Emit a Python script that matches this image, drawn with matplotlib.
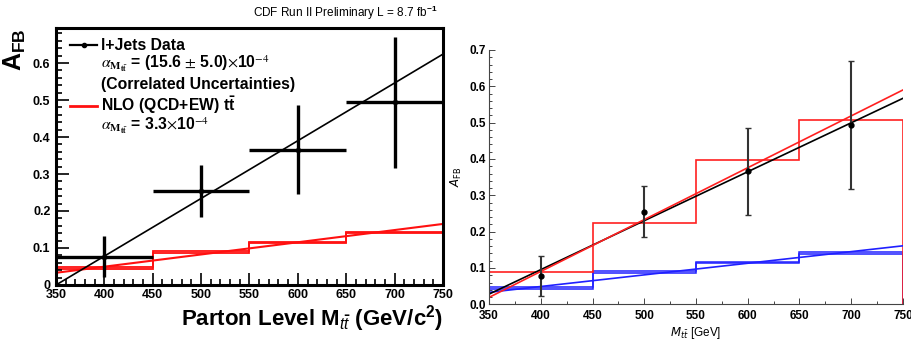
import numpy as np
import matplotlib
matplotlib.use('Agg')
import matplotlib.pyplot as plt
from matplotlib.ticker import MultipleLocator

plt.rcParams['font.family'] = ['Liberation Sans', 'DejaVu Sans']
plt.rcParams['mathtext.fontset'] = 'custom'
plt.rcParams['mathtext.rm'] = 'Liberation Sans:bold'
plt.rcParams['mathtext.it'] = 'Liberation Sans:italic'
plt.rcParams['mathtext.bf'] = 'Liberation Sans:bold'

# data
bin_edges = [350, 450, 550, 650, 750]
mass_centers = [400, 500, 600, 700]
afb_data = [0.077, 0.255, 0.366, 0.494]
afb_err = [0.055, 0.070, 0.120, 0.177]
bin_halfwidth = [50, 50, 50, 50]

nlo_hist = [0.045, 0.090, 0.115, 0.142]
nlo_band = 0.0025

# left panel fit lines (end points)
fit_x = [350, 750]
data_fit_left = [0.0, 0.624]
nlo_fit_left = [0.033, 0.165]

# right panel
red_hist = [0.088, 0.225, 0.398, 0.508]
data_fit_right = [0.028, 0.567]
red_fit_right = [0.019, 0.590]
blue_fit_right = [0.033, 0.161]

x_ticks = [350, 400, 450, 500, 550, 600, 650, 700, 750]
x_ticklabels = ['350', '400', '450', '500', '550', '600', '650', '700', '750']

fig = plt.figure(figsize=(9.12, 3.4), dpi=100)

# ---------------- left panel (CDF style) ----------------
ax = fig.add_axes([0.0614, 0.1618, 0.4243, 0.7558])
ax.set_xlim(350, 750)
ax.set_ylim(0, 0.6946)

ax.stairs(np.array(nlo_hist) - nlo_band, bin_edges, color='#ff1010', lw=1.3)
ax.stairs(np.array(nlo_hist) + nlo_band, bin_edges, color='#ff1010', lw=1.3)
ax.plot(fit_x, nlo_fit_left, color='#ff1010', lw=1.5)
ax.plot(fit_x, data_fit_left, color='black', lw=1.2)
ax.errorbar(mass_centers, afb_data, yerr=afb_err, xerr=bin_halfwidth,
            fmt='o', ms=3, color='black', elinewidth=2.4, capsize=0)

for s in ax.spines.values():
    s.set_linewidth(2.2)
ax.xaxis.set_minor_locator(MultipleLocator(10))
ax.yaxis.set_minor_locator(MultipleLocator(0.02))
ax.tick_params(which='both', direction='in', top=False, right=False, width=1.2)
ax.tick_params(which='major', length=9, labelsize=9, pad=3)
ax.tick_params(axis='y', which='major', pad=4)
ax.tick_params(which='minor', length=4.5)
ax.set_xticks(x_ticks)
ax.set_xticklabels(x_ticklabels, fontweight='bold')
ax.set_yticks([0, 0.1, 0.2, 0.3, 0.4, 0.5, 0.6])
ax.set_yticklabels(['0', '0.1', '0.2', '0.3', '0.4', '0.5', '0.6'], fontweight='bold')

ax.text(-0.105, 1.0, r'$\mathbf{A}_{\mathbf{FB}}$', transform=ax.transAxes,
        rotation=90, ha='center', va='top', fontsize=18)
fig.text(443 / 912, 1 - 325 / 340, r'Parton Level M$_{t\bar{t}}$ (GeV/c$^{2}$)',
         ha='right', va='baseline', fontsize=16, fontweight='bold')
fig.text(437 / 912, 1 - 17 / 340, r'CDF Run II Preliminary L = 8.7 fb$^{-1}$',
         ha='right', va='baseline', fontsize=8.5)

# legend drawn by hand
fig.add_artist(plt.Line2D([70 / 912, 97 / 912], [1 - 45 / 340] * 2, color='black', lw=1.6))
fig.add_artist(plt.Line2D([84 / 912], [1 - 45 / 340], marker='o', ms=3, color='black'))
fig.add_artist(plt.Line2D([70 / 912, 97 / 912], [1 - 106 / 340] * 2, color='#ff1010', lw=2))
tx = 101 / 912
fs = 11.3
fig.text(tx, 1 - 45 / 340, 'l+Jets Data', va='center', fontsize=fs, fontweight='bold')
fig.text(tx, 1 - 64 / 340, r'$\alpha_{\mathbf{M}_{\mathbf{t\bar{t}}}}$ = (15.6 $\pm$ 5.0)$\times$10$^{-4}$',
         va='center', fontsize=fs, fontweight='bold', math_fontfamily='stix')
fig.text(tx, 1 - 85 / 340, '(Correlated Uncertainties)', va='center', fontsize=fs, fontweight='bold')
fig.text(tx, 1 - 105 / 340, r'NLO (QCD+EW) t$\bar{\mathrm{t}}$', va='center', fontsize=fs, fontweight='bold')
fig.text(tx, 1 - 126 / 340, r'$\alpha_{\mathbf{M}_{\mathbf{t\bar{t}}}}$ = 3.3$\times$10$^{-4}$',
         va='center', fontsize=fs, fontweight='bold', math_fontfamily='stix')

# ---------------- right panel (Mathematica style) ----------------
ax2 = fig.add_axes([0.5362, 0.105, 0.4539, 0.748])
ax2.set_xlim(350, 750)
ax2.set_ylim(0, 0.7)

ax2.stairs(np.array(nlo_hist) - nlo_band, bin_edges, color='#2020ff', lw=1.1)
ax2.stairs(np.array(nlo_hist) + nlo_band, bin_edges, color='#2020ff', lw=1.1)
ax2.plot(fit_x, blue_fit_right, color='#2020ff', lw=1.2)
ax2.stairs(red_hist, bin_edges, color='#ff2020', lw=1.2)
ax2.plot(fit_x, data_fit_right, color='black', lw=1.2)
ax2.plot(fit_x, red_fit_right, color='#ff2020', lw=1.2)
ax2.errorbar(mass_centers, afb_data, yerr=afb_err, fmt='o', ms=3.5,
             color='black', ecolor='#333333', elinewidth=1.5, capsize=2, capthick=1)

ax2.spines['top'].set_visible(False)
ax2.spines['right'].set_visible(False)
for s in ['left', 'bottom']:
    ax2.spines[s].set_linewidth(0.8)
    ax2.spines[s].set_color('#444444')
ax2.xaxis.set_minor_locator(MultipleLocator(25))
ax2.yaxis.set_minor_locator(MultipleLocator(0.02))
ax2.tick_params(which='both', direction='in', color='#444444', width=0.7)
ax2.tick_params(which='major', length=4, labelsize=8.5, pad=2)
ax2.tick_params(axis='x', which='major', pad=4)
ax2.tick_params(which='minor', length=2)
ax2.set_xticks(x_ticks)
ax2.set_xticklabels(x_ticklabels, fontweight='bold')
ax2.set_yticks(np.arange(0, 0.71, 0.1))
ax2.set_yticklabels(['0.0', '0.1', '0.2', '0.3', '0.4', '0.5', '0.6', '0.7'], fontweight='bold')
ax2.set_xlabel(r'$M_{t\bar{t}}$ [GeV]', fontsize=8.5, labelpad=2,
               math_fontfamily='dejavusans')
ax2.set_ylabel(r'$A_{\mathrm{FB}}$', fontsize=8.5, labelpad=4, math_fontfamily='dejavusans')

fig.savefig('out.png', dpi=100)
